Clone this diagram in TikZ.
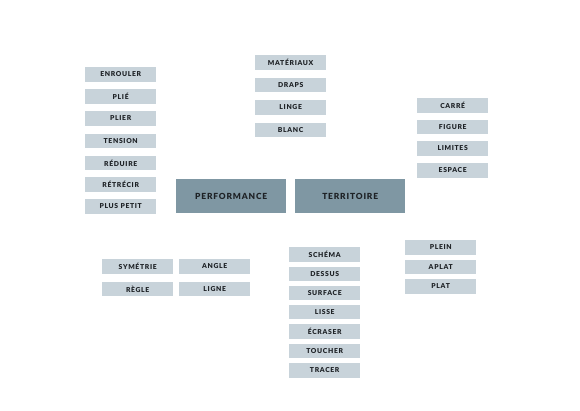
\documentclass[tikz,border=0pt]{standalone}
\usepackage{fontspec}
\setmainfont{Lato}
\newfontfamily\lbl[LetterSpace=10]{Lato Black}
\definecolor{smallbox}{HTML}{C8D3DA}
\definecolor{bigbox}{HTML}{7F97A3}
\definecolor{ink}{HTML}{1E2226}
\begin{document}
\begin{tikzpicture}[x=1pt,y=-1pt,
  sbox/.style={fill=smallbox,draw=none,minimum width=71pt,minimum height=14.5pt,inner sep=0pt,text=ink,font=\lbl\fontsize{6.8}{7}\selectfont,anchor=north west},
  bbox/.style={fill=bigbox,draw=none,minimum width=110pt,minimum height=34pt,inner sep=0pt,text=ink,font=\lbl\fontsize{8.4}{9}\selectfont,anchor=north west}]
\useasboundingbox (0,0) rectangle (580,410);
\fill[white] (0,0) rectangle (580,410);
% left column
\node[sbox] (enrouler) at (85,67) {ENROULER};
\node[sbox] (plie) at (85,89) {PLIÉ};
\node[sbox] (plier) at (85,111) {PLIER};
\node[sbox] (tension) at (85,133.5) {TENSION};
\node[sbox] (reduire) at (85,155.5) {RÉDUIRE};
\node[sbox] (retrecir) at (85,177) {RÉTRÉCIR};
\node[sbox] (pluspetit) at (85,199) {PLUS PETIT};
% central
\node[bbox] (performance) at (176,179) {PERFORMANCE};
\node[bbox] (territoire) at (295,179) {TERRITOIRE};
% top column
\node[sbox] (materiaux) at (255,55) {MATÉRIAUX};
\node[sbox] (draps) at (255,77.5) {DRAPS};
\node[sbox] (linge) at (255,100) {LINGE};
\node[sbox] (blanc) at (255,122.5) {BLANC};
% right column
\node[sbox] (carre) at (417,98) {CARRÉ};
\node[sbox] (figure) at (417,119.5) {FIGURE};
\node[sbox] (limites) at (417,141) {LIMITES};
\node[sbox] (espace) at (417,163) {ESPACE};
% bottom left
\node[sbox] (symetrie) at (102,259) {SYMÉTRIE};
\node[sbox] (angle) at (179,259) {ANGLE};
\node[sbox] (regle) at (102,281.5) {RÈGLE};
\node[sbox] (ligne) at (179,281.5) {LIGNE};
% bottom middle
\node[sbox] (schema) at (289,247) {SCHÉMA};
\node[sbox] (dessus) at (289,266.5) {DESSUS};
\node[sbox] (surface) at (289,285.5) {SURFACE};
\node[sbox] (lisse) at (289,304.5) {LISSE};
\node[sbox] (ecraser) at (289,324) {ÉCRASER};
\node[sbox] (toucher) at (289,343.5) {TOUCHER};
\node[sbox] (tracer) at (289,363) {TRACER};
% bottom right
\node[sbox] (plein) at (405,240) {PLEIN};
\node[sbox] (aplat) at (405,259.5) {APLAT};
\node[sbox] (plat) at (405,279) {PLAT};
\end{tikzpicture}
\end{document}
